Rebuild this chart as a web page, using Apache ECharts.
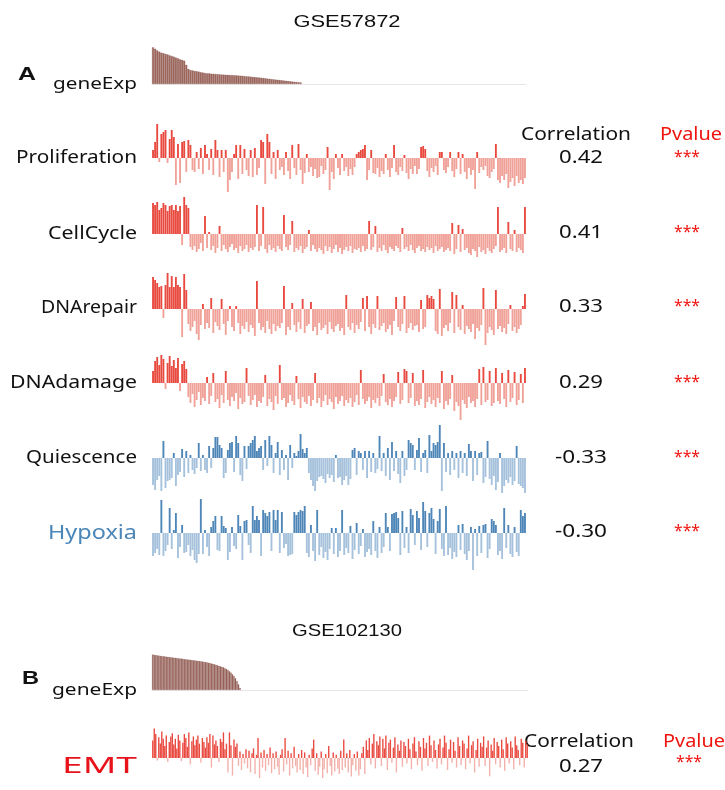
<!DOCTYPE html>
<html>
<head>
<meta charset="utf-8">
<script src="https://cdn.jsdelivr.net/npm/echarts@6/dist/echarts.min.js"></script>
<style>
  html, body { margin: 0; padding: 0; background: #ffffff; }
  #chart { width: 725px; height: 790px; }
</style>
</head>
<body>
<div id="chart"></div>
<script>
// ---- GSE57872: samples ordered by gene expression ----
const geneExpA = [
  36.7,35.2,33.6,32.4,31.3,30.9,30.1,29.6,28.7,28.0,
  27.3,26.4,25.8,24.7,24.1,23.3,19.2,15.1,14.0,13.6,
  13.1,12.8,12.4,11.8,11.5,11.0,10.8,10.6,10.3,10.2,
  10.0,9.9,9.7,9.5,9.4,9.2,9.1,9.0,8.9,8.8,
  8.7,8.5,8.3,8.2,7.9,7.7,7.6,7.3,7.1,6.9,
  6.7,6.5,6.3,6.0,5.8,5.4,5.2,4.9,4.7,4.4,
  4.2,4.0,3.7,3.5,3.2,3.0,2.7,2.5,2.2,2.0,
  1.8,1.6
];

const proliferation = [
  8,16,34,-4,24,26,28,-5,19,28,
  21,-27,14,-25,16,17,-14,18,13,-12,
  -14,6,-11,10,-16,13,4,-12,9,-17,
  18,8,-19,8,-14,8,-34,-22,-14,4,
  13,-21,13,-16,9,-12,-18,8,-19,10,
  -17,-10,18,16,-26,24,16,-16,6,-21,
  8,-12,-9,-17,6,-13,-21,13,-10,-17,
  14,-12,-26,-15,4,-14,-9,-18,-11,-20,
  -19,-8,-16,-12,11,-32,-14,-21,4,-10,
  -17,4,-13,-9,-18,-11,-17,-9,4,6,
  8,9,13,-22,-12,8,-15,-16,-10,-19,
  -13,-16,4,-12,-19,-10,13,-14,-17,-9,
  -13,3,-15,-21,-11,-16,-8,-16,-11,11,
  12,9,-13,-19,-10,-14,-8,-17,6,6,
  -12,-15,-9,6,-13,-19,-11,6,-16,4,
  -14,-21,-10,-17,-12,-31,6,-15,-9,-12,
  -8,-18,-20,-14,-11,14,-22,-25,-18,-22,
  -16,-30,-24,-20,-28,-18,-25,-22,-26,-20
];

const cellCycle = [
  31,29,32,24,26,31,29,23,28,29,24,29,23,28,-11,37,29,26,
  -13,-16,-12,-18,-15,-9,-17,18,-14,2,
  -16,-12,-19,-14,8,-17,-11,-15,-18,-13,
  -10,-16,-14,-19,-12,-17,-15,-11,-18,-14,
  -16,-13,29,-17,-12,27,-15,-19,-11,-16,
  -14,-18,-12,-15,-17,19,-13,-16,-11,13,
  -18,-14,-16,-12,-19,-15,-13,4,-17,-11,
  -15,-18,-14,-16,-20,-12,-17,-13,-19,-15,
  -11,-18,-14,-20,-16,-13,-17,-12,-19,-15,
  -16,-14,-18,-12,-17,-15,13,-16,-13,8,
  -18,-14,-17,-11,-16,-19,-13,-15,-17,-12,
  -14,-18,6,-15,-13,-17,-11,-16,-19,-14,
  -12,-17,-15,-18,-13,-16,-14,-19,-12,-17,
  -15,-13,-18,-16,-14,-17,11,-20,-15,9,
  -18,5,-16,-14,-19,-21,-15,-17,-23,-13,
  -18,-16,-20,-14,-17,-19,-15,-12,27,-18,
  -16,-14,-19,12,-15,-17,4,-18,-14,-16,
  -19,27
];

const dnaRepair = [
  32,29,26,22,23,-9,24,36,22,33,22,32,24,22,-28,35,19,
  -15,-22,-18,-12,-25,-31,-16,5,-20,-14,
  -19,11,-24,-13,-17,-21,10,-15,-26,-12,
  3,-18,-22,3,-14,-25,-17,-20,-13,-23,
  -16,-19,-27,28,-14,-21,-18,-24,-12,-20,
  -25,-15,-22,-17,-19,-14,23,-26,-18,-21,
  6,-16,-23,-13,-20,10,-24,-17,-15,7,
  -22,-18,-26,-14,-21,-19,-16,-25,-13,-20,
  -23,-17,-15,-22,-19,-26,14,-18,-21,-14,
  -24,-16,-20,-13,11,-22,13,-18,-25,-15,
  -19,13,-21,-17,-14,-23,-20,-16,-26,-12,
  12,-18,-22,-15,13,-24,-19,-14,-21,-17,
  -16,-23,9,-20,-18,14,11,13,10,-22,
  -25,20,-27,-19,-16,-22,-14,17,-24,14,
  -18,-21,4,-25,-17,-20,-23,-15,-30,-19,
  -22,-16,21,-36,-24,-18,-21,-26,19,-20,
  -17,-23,-19,-25,-15,4,-22,-18,-24,-20,
  -16,3,15
];

const dnaDamage = [
  12,22,26,18,28,24,-6,20,27,17,23,15,25,-8,19,22,14,
  -14,-20,-11,-24,-17,-9,-22,-15,-18,6,
  -21,-13,10,-19,-16,-25,-12,-20,12,-17,
  -23,-14,-18,-10,-26,-15,-21,-19,15,-13,
  -22,-17,-12,-24,-18,-20,-14,8,-23,-16,
  -19,-27,-13,-21,18,-17,-15,-24,-20,-12,
  -18,-22,7,-16,-25,-14,-19,-21,-13,-23,
  -17,10,-20,-15,-24,-18,-12,-22,-16,-19,
  -26,-14,-21,-18,-13,-23,-17,-20,-15,-24,
  -19,-12,-22,13,-16,-21,-18,-14,-25,-17,
  -20,-15,-23,-13,9,-19,-22,-16,-24,-18,
  -14,11,-21,-17,14,12,-20,-15,10,-23,
  -18,-22,-16,13,-25,-19,-14,-21,-17,-24,
  -15,-20,12,-26,-18,-22,-16,8,-28,-19,
  -23,-37,-17,-21,-25,-14,-20,-18,-24,-16,
  14,-22,16,-19,-17,12,-23,-20,15,-18,
  -21,10,-16,-24,13,-19,-15,11,-22,-17,
  9,-20,15
];

const quiescence = [
  -27,-32,-22,-18,-33,17,-30,-23,-22,-20,
  5,-28,-17,-14,9,-19,7,-15,3,-12,
  -16,-10,15,-13,3,-12,-15,12,-10,10,
  21,21,13,10,-20,-15,8,15,16,-14,
  22,15,-17,-23,12,-11,12,15,18,22,
  7,10,12,-12,18,-8,22,13,-15,5,
  16,-17,8,-12,3,-22,13,-10,5,2,
  7,24,9,5,10,-15,-22,-28,-33,-23,
  -19,-18,-21,-25,-16,-20,-17,-24,3,-20,
  -19,-27,-22,-18,-27,-21,8,10,-17,7,
  5,-12,7,-20,7,-14,5,-15,-11,22,
  -13,5,-18,10,-22,16,-13,7,-16,-25,
  7,-18,-12,18,15,13,-12,8,20,-14,
  5,8,-15,23,7,15,13,16,33,-33,
  15,-14,5,-17,7,-12,5,-20,7,-15,
  5,-18,14,7,-23,7,-17,5,6,-25,
  -19,17,-21,-27,-18,-32,-24,5,-35,-28,
  -22,-25,-19,-27,-23,12,-26,-28,-30,-35
];

const hypoxia = [
  -23,-20,-16,-22,33,-23,-18,-12,25,-16,
  3,20,-25,-14,8,-20,-19,-12,-23,-17,
  -27,-30,-21,34,-21,3,-14,-23,6,12,
  17,-17,-18,17,7,5,-27,-19,6,-13,
  -16,18,7,-27,12,13,-12,-20,27,13,
  17,13,-23,23,20,17,21,-18,23,13,
  23,-20,21,-15,-11,-23,-22,-21,21,18,
  21,23,22,27,-20,-24,8,-18,-28,23,
  -22,-14,-25,-19,-27,-16,5,-21,5,-24,
  -18,23,-22,-15,-20,7,-26,-17,10,-21,
  -13,4,-24,-19,-16,-22,12,-18,-25,6,
  -20,-14,20,6,-18,19,20,21,15,-22,
  22,-15,6,-20,24,18,-12,22,15,-17,
  31,22,-14,20,25,14,-21,12,24,-16,
  -23,27,-22,-15,-26,-19,-24,8,-17,9,
  -21,-27,-18,6,-37,4,-23,7,-20,8,
  9,-25,-16,14,12,8,-22,-18,-26,25,
  -15,8,-21,-24,6,-19,-23,23,17,20
];

const rowNamesA = ['Proliferation', 'CellCycle', 'DNArepair', 'DNAdamage', 'Quiescence', 'Hypoxia'];
const correlationsA = ['0.42', '0.41', '0.33', '0.29', '-0.33', '-0.30'];
const pvaluesA = ['***', '***', '***', '***', '***', '***'];

// ---- GSE102130 ----
const geneExpB = [
  35.5,35.1,34.9,34.6,34.5,34.1,34.0,33.7,33.6,33.3,
  33.2,33.0,32.7,32.6,32.3,32.2,31.9,31.8,31.5,31.4,
  31.2,30.9,30.8,30.5,30.4,30.1,30.0,29.7,29.6,29.3,
  29.2,28.9,28.8,28.5,28.3,27.9,27.7,27.3,27.0,26.5,
  26.2,25.7,25.3,24.8,24.2,23.8,23.1,22.6,21.7,21.0,
  20.0,18.7,17.4,15.7,14.0,11.7,9.0,5.7,2.2
];

const emt = [
  22,37,30,-3,26,18,33,24,15,28,
  -5,20,27,31,17,24,12,29,22,-4,
  19,30,25,14,32,-8,21,27,16,23,
  28,18,-6,25,20,13,26,19,30,-12,
  28,17,22,15,-5,24,20,32,11,18,
  -18,32,16,-22,23,14,18,
  -10,8,-15,5,-7,11,-13,9,-18,6,
  12,-20,4,25,-25,7,-12,10,-16,5,
  -9,13,-19,6,-14,8,-11,-21,4,11,
  -17,25,-8,9,-22,6,-13,14,-10,-18,
  5,-15,10,-20,7,-12,-24,4,-9,12,
  23,-16,6,-21,-11,8,-25,-14,5,-19,
  15,-10,-22,7,-17,4,-13,-20,9,-15,
  23,-12,6,-18,10,-23,-9,5,-16,8,
  -22,-14,6,
  14,-20,22,10,25,-8,18,30,-13,21,
  16,27,-10,24,12,28,-15,19,23,-6,
  13,26,-18,17,9,22,-11,20,15,-7,
  24,11,-14,18,26,8,-9,21,14,-16,
  25,12,19,-10,28,16,-5,22,10,-13,
  17,24,-8,13,28,19,-15,11,23,-6,
  20,9,-12,26,15,-9,22,18,-14,12,
  28,-7,16,21,-18,10,24,-11,19,14,
  27,-10,13,22,-23,17,9,25,-8,20,
  15,-12,23,11,-16,26,18,-7,21,13,
  -14,27,16,10,-9,24,19,-12,22,17
];

const rowNamesB = ['EMT'];
const correlationsB = ['0.27'];
const pvaluesB = ['***'];

// ---- layout ----
const RED = { pos: '#e84a3f', neg: '#f0a198' };
const BLUE = { pos: '#4e86b8', neg: '#a5c1db' };
const EMT_RED = { pos: '#ea4b41', neg: '#f3b1ab' };
const BROWN = '#a26b60';

const samplesA = proliferation.map((_, i) => 'S' + (i + 1));
const samplesB = emt.map((_, i) => 'S' + (i + 1));

const A_LEFT = 152, A_WIDTH = 374;
const B_LEFT = 152, B_WIDTH = 376;

const panels = [
  { kind: 'expr', base: 84, left: A_LEFT, width: A_WIDTH, cats: samplesA, data: geneExpA },
  { kind: 'score', base: 158, left: A_LEFT, width: A_WIDTH, cats: samplesA, data: proliferation, pal: RED },
  { kind: 'score', base: 234, left: A_LEFT, width: A_WIDTH, cats: samplesA, data: cellCycle, pal: RED },
  { kind: 'score', base: 309, left: A_LEFT, width: A_WIDTH, cats: samplesA, data: dnaRepair, pal: RED },
  { kind: 'score', base: 383, left: A_LEFT, width: A_WIDTH, cats: samplesA, data: dnaDamage, pal: RED },
  { kind: 'score', base: 458, left: A_LEFT, width: A_WIDTH, cats: samplesA, data: quiescence, pal: BLUE },
  { kind: 'score', base: 533, left: A_LEFT, width: A_WIDTH, cats: samplesA, data: hypoxia, pal: BLUE },
  { kind: 'expr', base: 690, left: B_LEFT, width: B_WIDTH, cats: samplesB, data: geneExpB },
  { kind: 'score', base: 766, left: B_LEFT, width: B_WIDTH, cats: samplesB, data: emt, pal: EMT_RED, thin: true }
];

const grid = [], xAxis = [], yAxis = [], series = [];
panels.forEach((p, k) => {
  const isExpr = p.kind === 'expr';
  grid.push({
    left: p.left, width: p.width,
    top: p.base - 40,
    height: isExpr ? 40 : 80,
    containLabel: false
  });
  xAxis.push({
    type: 'category', gridIndex: k, data: p.cats,
    axisLine: { show: isExpr, lineStyle: { color: '#e6e6e6', width: 1 } },
    axisTick: { show: false }, axisLabel: { show: false }, splitLine: { show: false }
  });
  yAxis.push({
    type: 'value', gridIndex: k,
    min: isExpr ? 0 : -40, max: 40,
    show: false, splitLine: { show: false }
  });
  if (isExpr) {
    series.push({
      type: 'bar', xAxisIndex: k, yAxisIndex: k, data: p.data,
      barCategoryGap: '0%',
      itemStyle: { color: BROWN, borderColor: 'rgba(112,62,54,0.55)', borderWidth: 0.4 },
      silent: true
    });
  } else {
    series.push({
      type: 'bar', xAxisIndex: k, yAxisIndex: k, data: p.data,
      barWidth: p.thin ? '92%' : '90%',
      itemStyle: { color: (d) => (d.value >= 0 ? p.pal.pos : p.pal.neg) },
      silent: true
    });
  }
});

// ---- text ----
const measureCtx = document.createElement('canvas').getContext('2d');
function label(text, x, y, opt) {
  const size = opt.size || 18;
  const family = opt.family || '"Noto Sans", sans-serif';
  const weight = opt.weight || 'normal';
  const font = weight + ' ' + size + 'px ' + family;
  measureCtx.font = font;
  const natural = measureCtx.measureText(text).width || 1;
  const sx = opt.w ? opt.w / natural : 1;
  const align = opt.align || 'center';
  return {
    type: 'text', x: x, y: y, scaleX: sx, scaleY: 1, silent: true,
    style: {
      text: text, font: font, fill: opt.color || '#111111',
      textAlign: align, align: align,
      textVerticalAlign: 'middle', verticalAlign: 'middle'
    }
  };
}

const TITLE_FONT = '"Liberation Sans", Arial, sans-serif';
const PRED = '#f0140f';
const graphics = [];

graphics.push(label('GSE57872', 347, 22, { size: 17, family: TITLE_FONT, w: 107 }));
graphics.push(label('A', 18, 75, { size: 19, family: TITLE_FONT, weight: 'bold', w: 18, align: 'left' }));
graphics.push(label('geneExp', 137, 84, { size: 17, w: 84, align: 'right' }));

const rowLabelWidthsA = [121, 89, 96, 127, 111, 89];
const rowYA = [158, 234, 308, 383, 458, 533];
const corrYA = [158, 233, 307, 383, 458, 532];
const corrWidthsA = [44, 44, 44, 44, 52, 52];
rowNamesA.forEach((name, i) => {
  const isHyp = name === 'Hypoxia';
  graphics.push(label(name, 137, rowYA[i], {
    size: isHyp ? 20 : 18, w: rowLabelWidthsA[i], align: 'right',
    color: isHyp ? '#4a86b8' : '#111111'
  }));
  graphics.push(label(correlationsA[i], 581, corrYA[i], { size: 18, w: corrWidthsA[i] }));
  graphics.push(label(pvaluesA[i], 687, corrYA[i] - 1, { size: 16, w: 26, color: PRED }));
});
graphics.push(label('Correlation', 576, 135, { size: 18, w: 110 }));
graphics.push(label('Pvalue', 691, 135, { size: 18, w: 62, color: PRED }));

graphics.push(label('GSE102130', 347, 631, { size: 17, family: TITLE_FONT, w: 110 }));
graphics.push(label('B', 22, 679, { size: 19, family: TITLE_FONT, weight: 'bold', w: 17, align: 'left' }));
graphics.push(label('geneExp', 137, 690, { size: 17, w: 85, align: 'right' }));
graphics.push(label(rowNamesB[0], 137, 767, { size: 22, w: 75, align: 'right', color: '#e8121a' }));
graphics.push(label('Correlation', 579, 742, { size: 18, w: 110 }));
graphics.push(label(correlationsB[0], 581, 767, { size: 18, w: 44 }));
graphics.push(label('Pvalue', 663, 742, { size: 18, w: 62, color: PRED, align: 'left' }));
graphics.push(label(pvaluesB[0], 689, 762, { size: 16, w: 26, color: PRED }));

const chart = echarts.init(document.getElementById('chart'), null, { renderer: 'canvas' });
chart.setOption({
  backgroundColor: '#ffffff',
  animation: false,
  grid: grid,
  xAxis: xAxis,
  yAxis: yAxis,
  series: series,
  graphic: graphics
});
</script>
</body>
</html>
